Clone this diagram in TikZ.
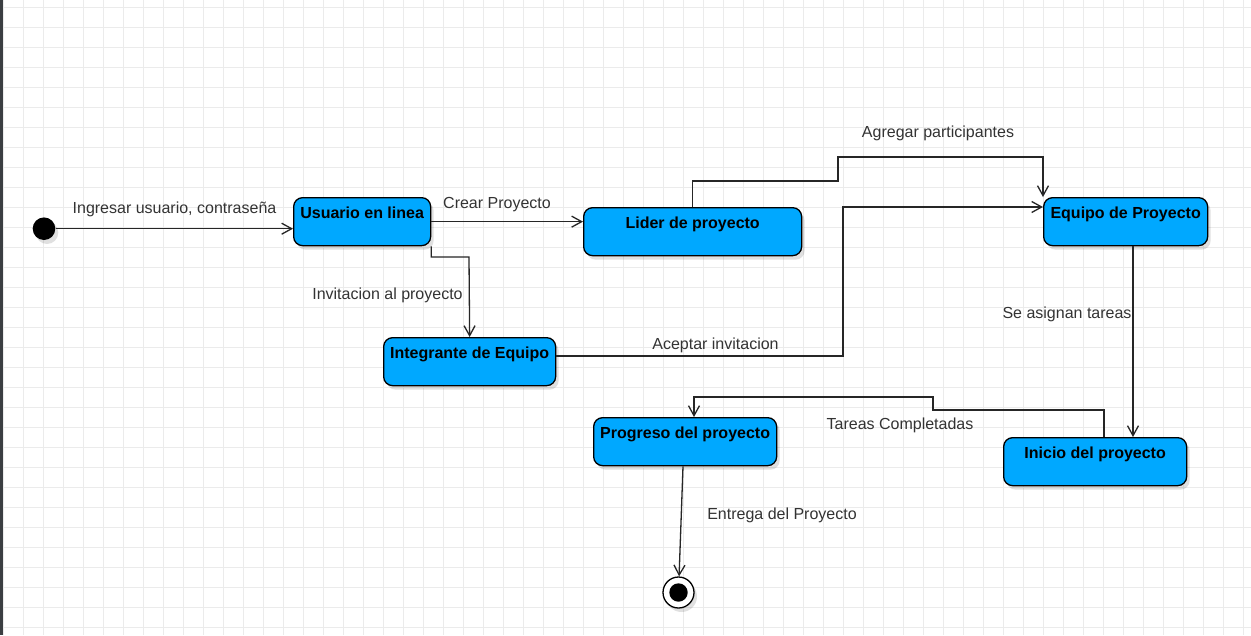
\documentclass[tikz,border=0pt]{standalone}
\usepackage{fontspec}
\setmainfont{Liberation Sans}
\usetikzlibrary{positioning}
\usetikzlibrary{arrows.meta}
\usetikzlibrary{shadows}
\definecolor{statefill}{HTML}{00A8FF}
\definecolor{gridgray}{HTML}{EBEBEB}
\definecolor{labelgray}{HTML}{333333}
\definecolor{sidebar}{HTML}{3B3E42}

\begin{document}
\begin{tikzpicture}[x=1pt,y=-1pt,>={Straight Barb[length=10pt,width=11pt]},
                    line width=1.3pt,
                    state node/.style={rectangle,rounded corners=9pt,draw=black,fill=statefill,
                      anchor=north west,minimum height=48pt,inner ysep=7pt,inner xsep=2pt,
                      text height=14pt,text depth=20pt,
                      font=\bfseries\fontsize{16}{19}\selectfont,
                      drop shadow={shadow xshift=3pt,shadow yshift=-4pt,fill=black,opacity=0.12}},
                    label node/.style={anchor=base,text=labelgray,inner sep=0pt,
                      font=\fontsize{16}{19}\selectfont},
                    trans/.style={->,draw=black!85}]
\useasboundingbox (0,0) rectangle (1251,635);
\fill[white] (0,0) rectangle (1251,635);
% grid
\foreach \gx in {3,23,...,1243}
  \draw[gridgray,line width=1pt] (\gx,0) -- (\gx,635);
\foreach \gy in {7,27,...,627}
  \draw[gridgray,line width=1pt] (0,\gy) -- (1251,\gy);
\fill[sidebar] (0,0) rectangle (3,635);

% states
\node[circle,fill=black,minimum size=22.6pt,inner sep=0pt,
      drop shadow={shadow xshift=3pt,shadow yshift=-4pt,fill=black,opacity=0.12}] (init) at (44,228.7) {};
\node[state node,minimum width=137pt] (usuario) at (293,197) {Usuario en linea};
\node[state node,minimum width=218pt] (lider) at (583,207) {Lider de proyecto};
\node[state node,minimum width=164pt] (equipo) at (1043,197) {Equipo de Proyecto};
\node[state node,minimum width=172pt] (integrante) at (383,337) {Integrante de Equipo};
\node[state node,minimum width=183pt] (inicio) at (1003,437) {Inicio del proyecto};
\node[state node,minimum width=183pt] (progreso) at (593,417) {Progreso del proyecto};
\node[circle,draw=black,fill=white,minimum size=31pt,inner sep=0pt,
      drop shadow={shadow xshift=3pt,shadow yshift=-4pt,fill=black,opacity=0.12}] (final) at (678.5,592.5) {};
\fill[black] (final.center) circle (9.2);

% transitions
\draw[trans] (init) -- (init -| usuario.west);
\draw[trans] (usuario.east) -- (usuario.east -| lider.west);
\draw[trans] (lider.north) |- (838,181) |- (1043,157) -- (equipo.north west);
\draw[trans] (usuario.south east) |- (469,257) -- (integrante.north);
\draw[trans] (integrante.east |- 0,356) -| (843,207) -- (equipo.west |- 0,207);
\draw[trans] (equipo.south -| 1133,0) -- (inicio.north -| 1133,0);
\draw[trans] (inicio.north -| 1104,0) |- (933,410) |- (694,397) -- (progreso.north -| 694,0);
\draw[trans] (progreso.south -| 683,0) -- (final);

% labels
\node[label node] (l1) at (174.5,213) {Ingresar usuario, contraseña};
\node[label node] (l2) at (497,208) {Crear Proyecto};
\node[label node] (l3) at (938,137) {Agregar participantes};
\node[label node] (l4) at (387.5,299) {Invitacion al proyecto};
\node[label node] (l5) at (715.5,349) {Aceptar invitacion};
\node[label node] (l6) at (1067,318) {Se asignan tareas};
\node[label node] (l7) at (900,429) {Tareas Completadas};
\node[label node] (l8) at (782,519) {Entrega del Proyecto};
\end{tikzpicture}
\end{document}
